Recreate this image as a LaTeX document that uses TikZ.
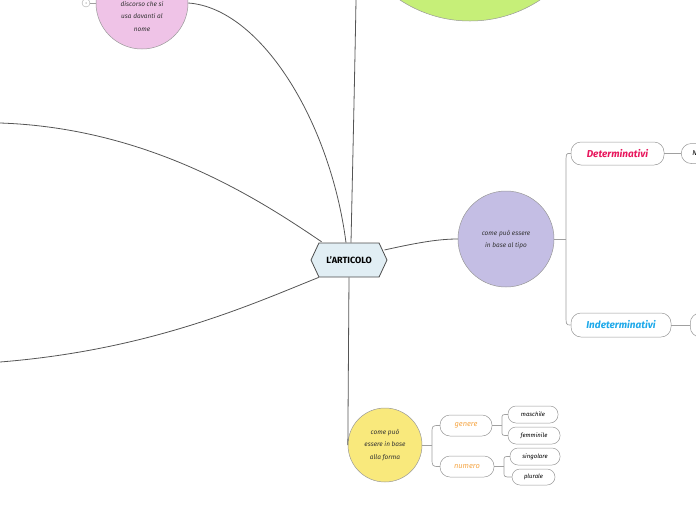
\documentclass[tikz,border=0pt]{standalone}
\usepackage{fontspec}
\setmainfont{Fira Sans}
\usetikzlibrary{shapes.symbols}
\definecolor{pinkc}{HTML}{EFC3E7}
\definecolor{greenc}{HTML}{C6EF78}
\definecolor{purpc}{HTML}{C4BEE4}
\definecolor{yelc}{HTML}{F9E97C}
\definecolor{hexc}{HTML}{E1EEF4}
\definecolor{detc}{HTML}{E8175D}
\definecolor{indc}{HTML}{1DA9EA}
\definecolor{orc}{HTML}{F6A849}
\definecolor{linec}{HTML}{555555}
\definecolor{sublc}{HTML}{A0A0A0}
\tikzset{
  bubble/.style={circle, draw=gray!80, line width=0.5pt, inner sep=0pt},
  btext/.style={align=center, font=\fontsize{6.5}{12.5}\selectfont\itshape, text=black!80},
  pill/.style={draw=gray!80, line width=0.5pt, fill=white, rounded corners=10pt, inner sep=0pt},
  smallpill/.style={draw=gray!80, line width=0.5pt, fill=white, rounded corners=8pt, inner sep=0pt, font=\fontsize{6}{7}\selectfont\itshape},
  mainline/.style={draw=linec, line width=0.8pt},
  subline/.style={draw=sublc, line width=0.7pt},
}
\begin{document}
\begin{tikzpicture}[x=1pt,y=-1pt]
\useasboundingbox (0,0) rectangle (696,520);
% big circles
\node[bubble, fill=greenc, minimum size=254pt] (green) at (470,-106) {};
\node[bubble, fill=pinkc, minimum size=92pt] (pink) at (142,3) {};
\node[btext] (pinkt) at (142,16.5) {discorso che si\\usa davanti al\\nome};
\node[circle, draw=gray!70, line width=0.4pt, minimum size=8pt, inner sep=0pt, font=\fontsize{3}{3}\selectfont, text=gray] (cnt) at (86,3) {3};
\draw[subline] (cnt.east) -- (pink.west);
% central node
\node[signal, signal to=east and west, signal pointer angle=130, draw=black!70, line width=0.8pt, fill=hexc, minimum width=76pt, minimum height=34pt, inner sep=0pt, font=\fontsize{9}{10}\selectfont\bfseries] (main) at (349,260) {L'ARTICOLO};
% purple
\node[bubble, fill=purpc, minimum size=96pt] (purp) at (506,239) {};
\node[btext] (purpt) at (506,239.5) {come può essere\\in base al tipo};
% yellow
\node[bubble, fill=yelc, minimum size=74pt] (yel) at (385,445) {};
\node[btext] (yelt) at (385,445) {come può\\essere in base\\alla forma};
% main connectors
\coordinate (lu) at (0,123);
\coordinate (ll) at (0,362);
\coordinate (gtop) at (356,0);
\draw[mainline] (main.north) ++(-3,0) .. controls (330,120) and (260,8) .. (pink.east);
\draw[mainline] (main.north) ++(2,0) .. controls (353,150) and (355,60) .. (gtop);
\draw[mainline] (main.north west) ++(3,-1) .. controls (260,200) and (150,128) .. (lu);
\draw[mainline] (main.south west) ++(0,0) .. controls (250,305) and (150,350) .. (ll);
\draw[mainline] (main.east) ++(-3,-10) .. controls (420,242) and (440,239) .. (purp.west);
\draw[mainline] (main.south) -- (348,420) .. controls (348,435) .. (yel.west);
% determinativi
\node[pill, minimum width=93pt, minimum height=23pt, text=detc, font=\fontsize{10}{11}\selectfont\bfseries\itshape] (det) at (617.5,153.5) {Determinativi};
\node[pill, minimum height=20pt, anchor=west, text width=40pt, inner xsep=11pt, align=left, font=\fontsize{7}{8}\selectfont\itshape] (detn) at (681,153.5) {N};
\node[pill, minimum width=100pt, minimum height=24pt, text=indc, font=\fontsize{10}{11}\selectfont\bfseries\itshape] (ind) at (621,325) {Indeterminativi};
\node[pill, minimum width=60pt, minimum height=24pt, anchor=west] (indn) at (690,325) {};
\draw[subline] (det.east) -- (detn.west);
\draw[subline] (ind.east) -- (indn.west);
\draw[subline] (purp.east) -- (566,239);
\draw[subline] (det.west) .. controls (566,153) .. (566,165) -- (566,313) .. controls (566,325) .. (ind.west);
% genere / numero
\node[pill, minimum width=52pt, minimum height=21pt, text=orc, font=\fontsize{7.5}{8}\selectfont\itshape] (gen) at (466,425.5) {genere};
\node[pill, minimum width=54pt, minimum height=21pt, text=orc, font=\fontsize{7.5}{8}\selectfont\itshape] (num) at (467,466.5) {numero};
\draw[subline] (yel.east) -- (432,445);
\draw[subline] (gen.west) .. controls (432,425.5) .. (432,434) -- (432,457) .. controls (432,466.5) .. (num.west);
% leaves
\node[smallpill, minimum width=50pt, minimum height=17pt] (masc) at (533,414.5) {maschile};
\node[smallpill, minimum width=52pt, minimum height=17pt] (femm) at (534,435.5) {femminile};
\node[smallpill, minimum width=50pt, minimum height=17pt] (sing) at (535,456.5) {singolare};
\node[smallpill, minimum width=43pt, minimum height=16pt] (plur) at (533.5,477) {plurale};
\draw[subline] (gen.east) -- (502,425.5);
\draw[subline] (masc.west) .. controls (502,414.5) .. (502,419) -- (502,431) .. controls (502,435.5) .. (femm.west);
\draw[subline] (num.east) -- (504,466.5);
\draw[subline] (sing.west) .. controls (504,456.5) .. (504,461) -- (504,472) .. controls (504,477) .. (plur.west);
\end{tikzpicture}
\end{document}
